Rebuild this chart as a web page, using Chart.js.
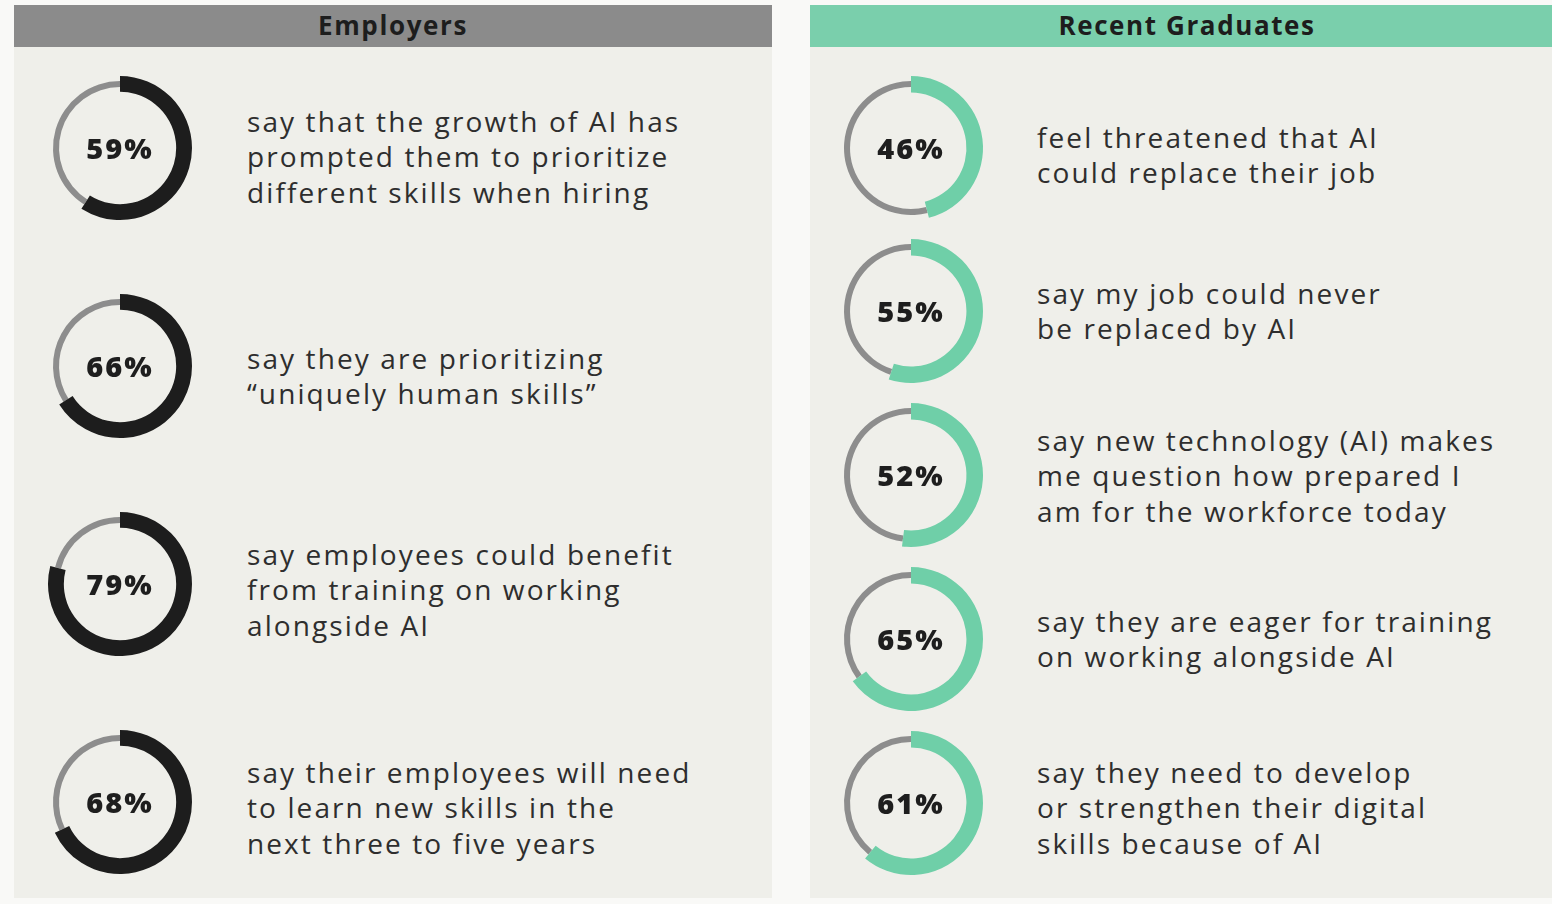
<!DOCTYPE html>
<html>
<head>
<meta charset="utf-8">
<script src="https://cdn.jsdelivr.net/npm/chart.js@4.4.1/dist/chart.umd.min.js"></script>
<style>
  html, body { margin: 0; padding: 0; background: #f9f9f7; }
  body { width: 1552px; height: 904px; position: relative; overflow: hidden; font-family: "Open Sans", sans-serif; }
  .panel { position: absolute; top: 5px; background: #efefea; }
  .head { height: 42px; line-height: 40px; text-align: center; font-weight: 700; font-size: 26px; letter-spacing: 1.6px; color: #1d1d1d; }
  .item { position: absolute; width: 160px; height: 160px; }
  .item canvas { position: absolute; left: 0; top: 0; }
  .pct { position: absolute; left: 0; top: 0; width: 160px; line-height: 160px; text-align: center; font-weight: 800; font-size: 29px; letter-spacing: 2px; color: #1e1e1e; }
  .desc { position: absolute; font-size: 28px; line-height: 35.5px; color: #2e2e2e; white-space: pre; letter-spacing: 2.1px; }
</style>
</head>
<body>
<div id="left" class="panel" style="left:14px;width:758px;height:893px;"><div class="head" style="background:#8b8b8b;">Employers</div></div>
<div id="right" class="panel" style="left:810px;width:742px;height:893px;"><div class="head" style="background:#7acfac;padding-left:12px;">Recent Graduates</div></div>
<script>
// Employers
var employerValues = [59, 66, 79, 68];
var employerLabels = [
    "say that the growth of AI has\nprompted them to prioritize\ndifferent skills when hiring",
    "say they are prioritizing\n\u201cuniquely human skills\u201d",
    "say employees could benefit\nfrom training on working\nalongside AI",
    "say their employees will need\nto learn new skills in the\nnext three to five years"
];

// Recent Graduates
var gradValues = [46, 55, 52, 65, 61];
var gradLabels = [
    "feel threatened that AI\ncould replace their job",
    "say my job could never\nbe replaced by AI",
    "say new technology (AI) makes\nme question how prepared I\nam for the workforce today",
    "say they are eager for training\non working alongside AI",
    "say they need to develop\nor strengthen their digital\nskills because of AI"
];

var remainColor = "#8d8d8d";

function ring(canvas, value, colors, radius, cutout){
    new Chart(canvas, {
        type: 'doughnut',
        data: {
            labels: ['yes', 'rest'],
            datasets: [{
                data: [value, 100 - value],
                backgroundColor: colors,
                borderWidth: 0
            }]
        },
        options: {
            responsive: false,
            animation: false,
            events: [],
            radius: radius,
            cutout: cutout,
            plugins: { legend: { display: false }, tooltip: { enabled: false } }
        }
    });
}

function addItem(value, label, color, cut, cx, cy, textX, textDy){
    var box = document.createElement('div');
    box.className = 'item';
    box.style.left = (cx - 80) + 'px';
    box.style.top = (cy - 80) + 'px';
    document.body.appendChild(box);

    var c1 = document.createElement('canvas');
    c1.width = 160; c1.height = 160;
    box.appendChild(c1);
    var c2 = document.createElement('canvas');
    c2.width = 160; c2.height = 160;
    box.appendChild(c2);

    // thin grey remainder, then the thick coloured share on top
    ring(c1, value, ['rgba(0,0,0,0)', remainColor], 67, '91%');
    ring(c2, value, [color, 'rgba(0,0,0,0)'], 72, cut);

    var pct = document.createElement('div');
    pct.className = 'pct';
    pct.textContent = value + '%';
    box.appendChild(pct);

    var lines = label.split('\n').length;
    var desc = document.createElement('div');
    desc.className = 'desc';
    desc.textContent = label;
    desc.style.left = textX + 'px';
    desc.style.top = (cy + textDy - lines * 35.5 / 2) + 'px';
    document.body.appendChild(desc);
}

var leftY = [148, 366, 584, 802];
var leftDy = [9, 10, 6, 6];
for (var i = 0; i < employerValues.length; i++) {
    addItem(employerValues[i], employerLabels[i], '#1d1d1d', '78%', 120, leftY[i], 247, leftDy[i]);
}

var rightY = [148, 311, 475, 639, 803];
var rightDy = [7, 0, 1, 0, 5];
for (var j = 0; j < gradValues.length; j++) {
    addItem(gradValues[j], gradLabels[j], '#6fcfa8', '77%', 911, rightY[j], 1037, rightDy[j]);
}
</script>
</body>
</html>
